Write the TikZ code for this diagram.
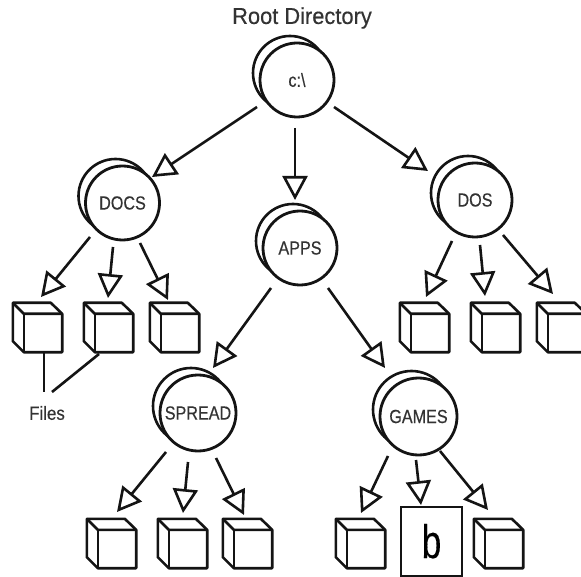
\documentclass[tikz,border=0pt]{standalone}
\usepackage{fontspec}
\setmainfont[FakeBold=0.35]{Liberation Sans}
\usetikzlibrary{arrows.meta}
\definecolor{inkc}{HTML}{141414}
\definecolor{textc}{HTML}{333333}
\tikzset{
  dirfront/.style={circle,draw=inkc,line width=2.8pt,fill=white,inner sep=0pt,text=textc,font=\fontsize{19}{19}\selectfont},
  dirback/.style={draw=inkc,line width=2.6pt,fill=white},
  cubeanchor/.style={rectangle,draw=none,inner sep=0pt,minimum size=49pt},
  cubeline/.style={draw=inkc,line width=2.6pt,line join=round},
  label/.style={text=textc,inner sep=0pt},
  conn/.style={draw=inkc,line width=2.6pt,-{Triangle[fill=white,length=24pt,width=25pt,line width=2.6pt]}},
  plain/.style={draw=inkc,line width=2.6pt},
  bbox/.style={rectangle,draw=inkc,line width=2.8pt,fill=white,minimum width=61pt,minimum height=69pt,inner sep=0pt,font=\fontsize{47}{47}\selectfont,text=black}
}
\newcommand{\dirnode}[5]{%
  \draw[dirback] (#2-7,#3-7) circle (#4);
  \node[dirfront,minimum size=#4*2 pt] (#1) at (#2,#3) {\scalebox{0.85}[1]{#5}};
}
\newcommand{\cubenode}[3]{%
  \node[cubeanchor] (#1) at (#2,#3) {};
  \draw[cubeline] (#1.north west) -- ([xshift=38pt]#1.north west) -- ([yshift=-11pt]#1.north east) -- (#1.south east)
     -- ([xshift=11pt]#1.south west) -- ([yshift=11pt]#1.south west) -- cycle;
  \draw[cubeline] (#1.north west) -- ([shift={(11pt,-11pt)}]#1.north west) -- ([yshift=-11pt]#1.north east);
  \draw[cubeline] ([shift={(11pt,-11pt)}]#1.north west) -- ([xshift=11pt]#1.south west);
}
\newcommand{\link}[6]{%
  \draw[conn] ([shift={(#2,#3)}]#1.center) -- ([shift={(#5,#6)}]#4.center);
}
\begin{document}
\begin{tikzpicture}[x=1pt,y=-1pt]
\useasboundingbox (0,0) rectangle (581,577);
\fill[white] (0,0) rectangle (581,577);
\node[label,font=\fontsize{23}{23}\selectfont] (rootlabel) at (302,18) {\scalebox{0.95}[1]{Root Directory}};
\dirnode{root}{297}{80}{37}{c:\textbackslash}
\dirnode{docs}{122.5}{203}{37}{DOCS}
\dirnode{apps}{300}{248}{37}{APPS}
\dirnode{dos}{475}{200}{37}{DOS}
\dirnode{spread}{198}{413}{38}{SPREAD}
\dirnode{games}{418.5}{416.5}{38.5}{GAMES}
\cubenode{ca}{37.5}{327.5}
\cubenode{cb}{108.5}{327.5}
\cubenode{cc}{174.5}{327.5}
\cubenode{da}{424.5}{327.5}
\cubenode{db}{495.5}{327.5}
\cubenode{dc}{561.5}{327.5}
\cubenode{sa}{111.5}{543.5}
\cubenode{sb}{182.5}{543.5}
\cubenode{sc}{247.5}{543.5}
\cubenode{ga}{360.5}{543.5}
\cubenode{gc}{498.5}{543.5}
\node[bbox] (gb) at (431.5,541.5) {\raisebox{1pt}{\scalebox{0.75}[1]{b}}};
\node[label,font=\fontsize{19}{19}\selectfont] (files) at (47,413) {\scalebox{0.89}[1]{Files}};
\link{root}{-40}{27}{docs}{29.5}{-26}
\link{root}{-2}{48}{apps}{-5}{-48}
\link{root}{37}{27}{dos}{-47}{-29}
\link{apps}{-29}{40}{spread}{15}{-45}
\link{apps}{28}{40}{games}{-33.5}{-48.5}
\link{docs}{-32.5}{34}{ca}{3.5}{-30.5}
\link{docs}{-9.5}{44}{cb}{-0.5}{-29.5}
\link{docs}{17.5}{40}{cc}{-6.5}{-27.5}
\link{dos}{-23}{41}{da}{1.5}{-30.5}
\link{dos}{5}{45}{db}{-10.5}{-31.5}
\link{dos}{28}{35}{dc}{-8.5}{-33.5}
\link{spread}{-32}{39}{sa}{5.5}{-31.5}
\link{spread}{-10}{49}{sb}{0.5}{-30.5}
\link{spread}{18}{45}{sc}{-3.5}{-28.5}
\link{games}{-30.5}{39.5}{ga}{0.5}{-30.5}
\link{games}{-2.5}{43.5}{gb}{-10.5}{-36.5}
\link{games}{21.5}{34.5}{gc}{-10.5}{-33.5}
\draw[plain] ([shift={(6.5,25.5)}]ca.center) -- ([shift={(-3,-21)}]files.center);
\draw[plain] ([shift={(-9.5,26.5)}]cb.center) -- ([shift={(5,-21)}]files.center);
\end{tikzpicture}
\end{document}
